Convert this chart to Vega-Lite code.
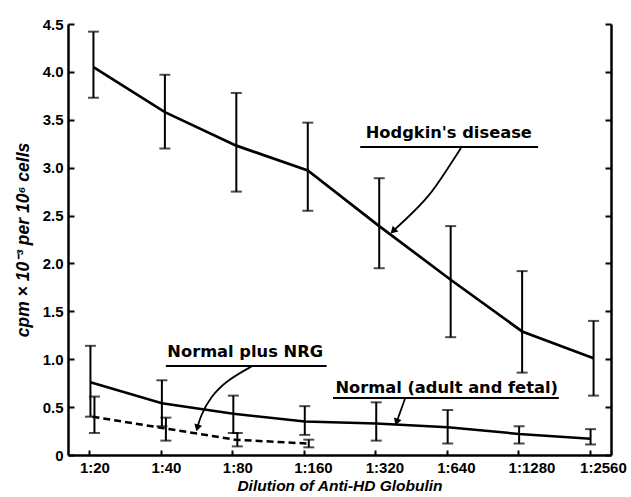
{
  "$schema": "https://vega.github.io/schema/vega-lite/v6.json",
  "width": 543,
  "height": 431,
  "autosize": "none",
  "padding": {"left": 68, "top": 24, "right": 20, "bottom": 42},
  "background": "white",
  "config": {
    "view": {"stroke": null},
    "axis": {
      "domainColor": "black",
      "domainWidth": 2.5,
      "tickColor": "black",
      "tickWidth": 2,
      "grid": false,
      "labelColor": "black",
      "labelFont": "Liberation Sans",
      "labelFontWeight": "bold",
      "titleColor": "black",
      "titleFont": "Liberation Sans",
      "titleFontWeight": "bold",
      "titleFontStyle": "italic"
    }
  },
  "datasets": {
    "main": [
      {"series": "Hodgkin's disease", "dilution": "1:20", "mean": 4.05, "lo": 3.73, "hi": 4.42},
      {"series": "Hodgkin's disease", "dilution": "1:40", "mean": 3.58, "lo": 3.20, "hi": 3.97},
      {"series": "Hodgkin's disease", "dilution": "1:80", "mean": 3.23, "lo": 2.75, "hi": 3.78},
      {"series": "Hodgkin's disease", "dilution": "1:160", "mean": 2.97, "lo": 2.55, "hi": 3.47},
      {"series": "Hodgkin's disease", "dilution": "1:320", "mean": 2.39, "lo": 1.95, "hi": 2.89},
      {"series": "Hodgkin's disease", "dilution": "1:640", "mean": 1.83, "lo": 1.23, "hi": 2.39},
      {"series": "Hodgkin's disease", "dilution": "1:1280", "mean": 1.29, "lo": 0.86, "hi": 1.92},
      {"series": "Hodgkin's disease", "dilution": "1:2560", "mean": 1.01, "lo": 0.62, "hi": 1.40},
      {"series": "Normal (adult and fetal)", "dilution": "1:20", "mean": 0.76, "lo": 0.40, "hi": 1.14},
      {"series": "Normal (adult and fetal)", "dilution": "1:40", "mean": 0.54, "lo": 0.30, "hi": 0.78},
      {"series": "Normal (adult and fetal)", "dilution": "1:80", "mean": 0.43, "lo": 0.23, "hi": 0.62},
      {"series": "Normal (adult and fetal)", "dilution": "1:160", "mean": 0.35, "lo": 0.21, "hi": 0.51},
      {"series": "Normal (adult and fetal)", "dilution": "1:320", "mean": 0.33, "lo": 0.15, "hi": 0.55},
      {"series": "Normal (adult and fetal)", "dilution": "1:640", "mean": 0.29, "lo": 0.12, "hi": 0.47},
      {"series": "Normal (adult and fetal)", "dilution": "1:1280", "mean": 0.22, "lo": 0.12, "hi": 0.30},
      {"series": "Normal (adult and fetal)", "dilution": "1:2560", "mean": 0.17, "lo": 0.11, "hi": 0.27},
      {"series": "Normal plus NRG", "dilution": "1:20", "mean": 0.40, "lo": 0.23, "hi": 0.61},
      {"series": "Normal plus NRG", "dilution": "1:40", "mean": 0.28, "lo": 0.15, "hi": 0.39},
      {"series": "Normal plus NRG", "dilution": "1:80", "mean": 0.16, "lo": 0.09, "hi": 0.23},
      {"series": "Normal plus NRG", "dilution": "1:160", "mean": 0.12, "lo": 0.08, "hi": 0.16}
    ],
    "notes": [
      {"label": "Hodgkin's  disease", "tx": 5.03, "ty": 3.36, "ux1": 3.79, "ux2": 6.28, "uy": 3.215},
      {"label": "Normal  plus NRG", "tx": 2.18, "ty": 1.075, "ux1": 1.07, "ux2": 3.32, "uy": 0.929},
      {"label": "Normal (adult and fetal)", "tx": 5.0, "ty": 0.70, "ux1": 3.41, "ux2": 6.57, "uy": 0.595}
    ],
    "arrows": [
      {"arrow": "H", "k": 0, "x": 5.2, "y": 3.205},
      {"arrow": "H", "k": 1, "x": 5.0, "y": 2.975},
      {"arrow": "H", "k": 2, "x": 4.75, "y": 2.693},
      {"arrow": "H", "k": 3, "x": 4.44, "y": 2.47},
      {"arrow": "H", "k": 4, "x": 4.25, "y": 2.338},
      {"arrow": "R", "k": 0, "x": 2.28, "y": 0.929},
      {"arrow": "R", "k": 1, "x": 1.93, "y": 0.783},
      {"arrow": "R", "k": 2, "x": 1.69, "y": 0.605},
      {"arrow": "R", "k": 3, "x": 1.55, "y": 0.397},
      {"arrow": "R", "k": 4, "x": 1.51, "y": 0.282},
      {"arrow": "N", "k": 0, "x": 4.42, "y": 0.595},
      {"arrow": "N", "k": 1, "x": 4.36, "y": 0.470},
      {"arrow": "N", "k": 2, "x": 4.30, "y": 0.344}
    ],
    "heads": [
      {"arrow": "H", "x": 4.25, "y": 2.338, "angle": 45},
      {"arrow": "R", "x": 1.51, "y": 0.282, "angle": 15},
      {"arrow": "N", "x": 4.30, "y": 0.344, "angle": 18}
    ]
  },
  "layer": [
    {
      "data": {"name": "main"},
      "encoding": {
        "x": {
          "field": "dilution",
          "type": "ordinal",
          "scale": {"type": "point", "padding": 0.3, "domain": ["1:20", "1:40", "1:80", "1:160", "1:320", "1:640", "1:1280", "1:2560"]},
          "axis": {
            "title": "Dilution of Anti-HD Globulin",
            "labelAngle": 0,
            "labelAlign": "left",
            "labelOffset": -10,
            "labelFontSize": 15,
            "titleFontSize": 15.5,
            "tickSize": -5,
            "labelPadding": 10,
            "titlePadding": 3
          }
        }
      },
      "layer": [
        {
          "transform": [{"filter": "datum.series == 'Hodgkin\\'s disease'"}],
          "layer": [
            {
              "mark": {"type": "rule", "strokeWidth": 2, "color": "black", "xOffset": 4},
              "encoding": {
                "y": {
                  "field": "lo",
                  "type": "quantitative",
                  "scale": {"domain": [0, 4.5], "nice": false, "zero": true},
                  "axis": {
                    "orient": "left",
                    "title": "cpm × 10⁻³ per 10⁶ cells",
                    "values": [0, 0.5, 1, 1.5, 2, 2.5, 3, 3.5, 4, 4.5],
                    "labelExpr": "datum.value == 0 ? '0' : format(datum.value, '.1f')",
                    "labelFontSize": 15,
                    "titleFontSize": 17.5,
                    "tickSize": -6,
                    "labelPadding": 11,
                    "titlePadding": 10
                  }
                },
                "y2": {"field": "hi"}
              }
            },
            {
              "mark": {"type": "tick", "size": 11, "thickness": 2, "color": "black", "xOffset": 4},
              "encoding": {"y": {"field": "lo", "type": "quantitative", "axis": null}}
            },
            {
              "mark": {"type": "tick", "size": 11, "thickness": 2, "color": "black", "xOffset": 4},
              "encoding": {"y": {"field": "hi", "type": "quantitative", "axis": null}}
            },
            {
              "mark": {"type": "line", "strokeWidth": 2.7, "color": "black", "xOffset": 4},
              "encoding": {
                "y": {
                  "field": "mean",
                  "type": "quantitative",
                  "axis": {
                    "orient": "right",
                    "title": null,
                    "labels": false,
                    "values": [0, 0.5, 1, 1.5, 2, 2.5, 3, 3.5, 4, 4.5],
                    "tickSize": -6
                  }
                }
              }
            }
          ]
        },
        {
          "transform": [{"filter": "datum.series == 'Normal (adult and fetal)'"}],
          "layer": [
            {
              "mark": {"type": "rule", "strokeWidth": 2, "color": "black", "xOffset": 1},
              "encoding": {"y": {"field": "lo", "type": "quantitative", "axis": null}, "y2": {"field": "hi"}}
            },
            {
              "mark": {"type": "tick", "size": 11, "thickness": 2, "color": "black", "xOffset": 1},
              "encoding": {"y": {"field": "lo", "type": "quantitative", "axis": null}}
            },
            {
              "mark": {"type": "tick", "size": 11, "thickness": 2, "color": "black", "xOffset": 1},
              "encoding": {"y": {"field": "hi", "type": "quantitative", "axis": null}}
            },
            {
              "mark": {"type": "line", "strokeWidth": 2.5, "color": "black", "xOffset": 1},
              "encoding": {"y": {"field": "mean", "type": "quantitative", "axis": null}}
            }
          ]
        },
        {
          "transform": [{"filter": "datum.series == 'Normal plus NRG'"}],
          "layer": [
            {
              "mark": {"type": "rule", "strokeWidth": 2, "color": "black", "xOffset": 5},
              "encoding": {"y": {"field": "lo", "type": "quantitative", "axis": null}, "y2": {"field": "hi"}}
            },
            {
              "mark": {"type": "tick", "size": 11, "thickness": 2, "color": "black", "xOffset": 5},
              "encoding": {"y": {"field": "lo", "type": "quantitative", "axis": null}}
            },
            {
              "mark": {"type": "tick", "size": 11, "thickness": 2, "color": "black", "xOffset": 5},
              "encoding": {"y": {"field": "hi", "type": "quantitative", "axis": null}}
            },
            {
              "mark": {"type": "line", "strokeWidth": 2.5, "strokeDash": [7, 4], "color": "black", "xOffset": 3},
              "encoding": {"y": {"field": "mean", "type": "quantitative", "axis": null}}
            }
          ]
        }
      ],
      "resolve": {"axis": {"y": "independent"}}
    },
    {
      "layer": [
        {
          "data": {"name": "notes"},
          "mark": {"type": "text", "font": "DejaVu Sans", "fontSize": 16.3, "fontWeight": "bold", "color": "black", "align": "center", "baseline": "middle"},
          "encoding": {
            "x": {"field": "tx", "type": "quantitative", "scale": {"domain": [-0.3, 7.3], "nice": false, "zero": false}, "axis": null},
            "y": {"field": "ty", "type": "quantitative", "axis": null},
            "text": {"field": "label"}
          }
        },
        {
          "data": {"name": "notes"},
          "mark": {"type": "rule", "strokeWidth": 2, "color": "black"},
          "encoding": {
            "x": {"field": "ux1", "type": "quantitative", "axis": null},
            "x2": {"field": "ux2"},
            "y": {"field": "uy", "type": "quantitative", "axis": null}
          }
        },
        {
          "data": {"name": "arrows"},
          "mark": {"type": "line", "interpolate": "basis", "strokeWidth": 1.8, "color": "black"},
          "encoding": {
            "x": {"field": "x", "type": "quantitative", "axis": null},
            "y": {"field": "y", "type": "quantitative", "axis": null},
            "detail": {"field": "arrow"},
            "order": {"field": "k", "type": "quantitative"}
          }
        },
        {
          "data": {"name": "heads"},
          "mark": {"type": "point", "shape": "triangle-down", "filled": true, "size": 65, "color": "black", "opacity": 1, "strokeWidth": 0},
          "encoding": {
            "x": {"field": "x", "type": "quantitative", "axis": null},
            "y": {"field": "y", "type": "quantitative", "axis": null},
            "angle": {"field": "angle", "type": "quantitative", "scale": null}
          }
        }
      ]
    }
  ],
  "resolve": {"scale": {"x": "independent"}}
}
